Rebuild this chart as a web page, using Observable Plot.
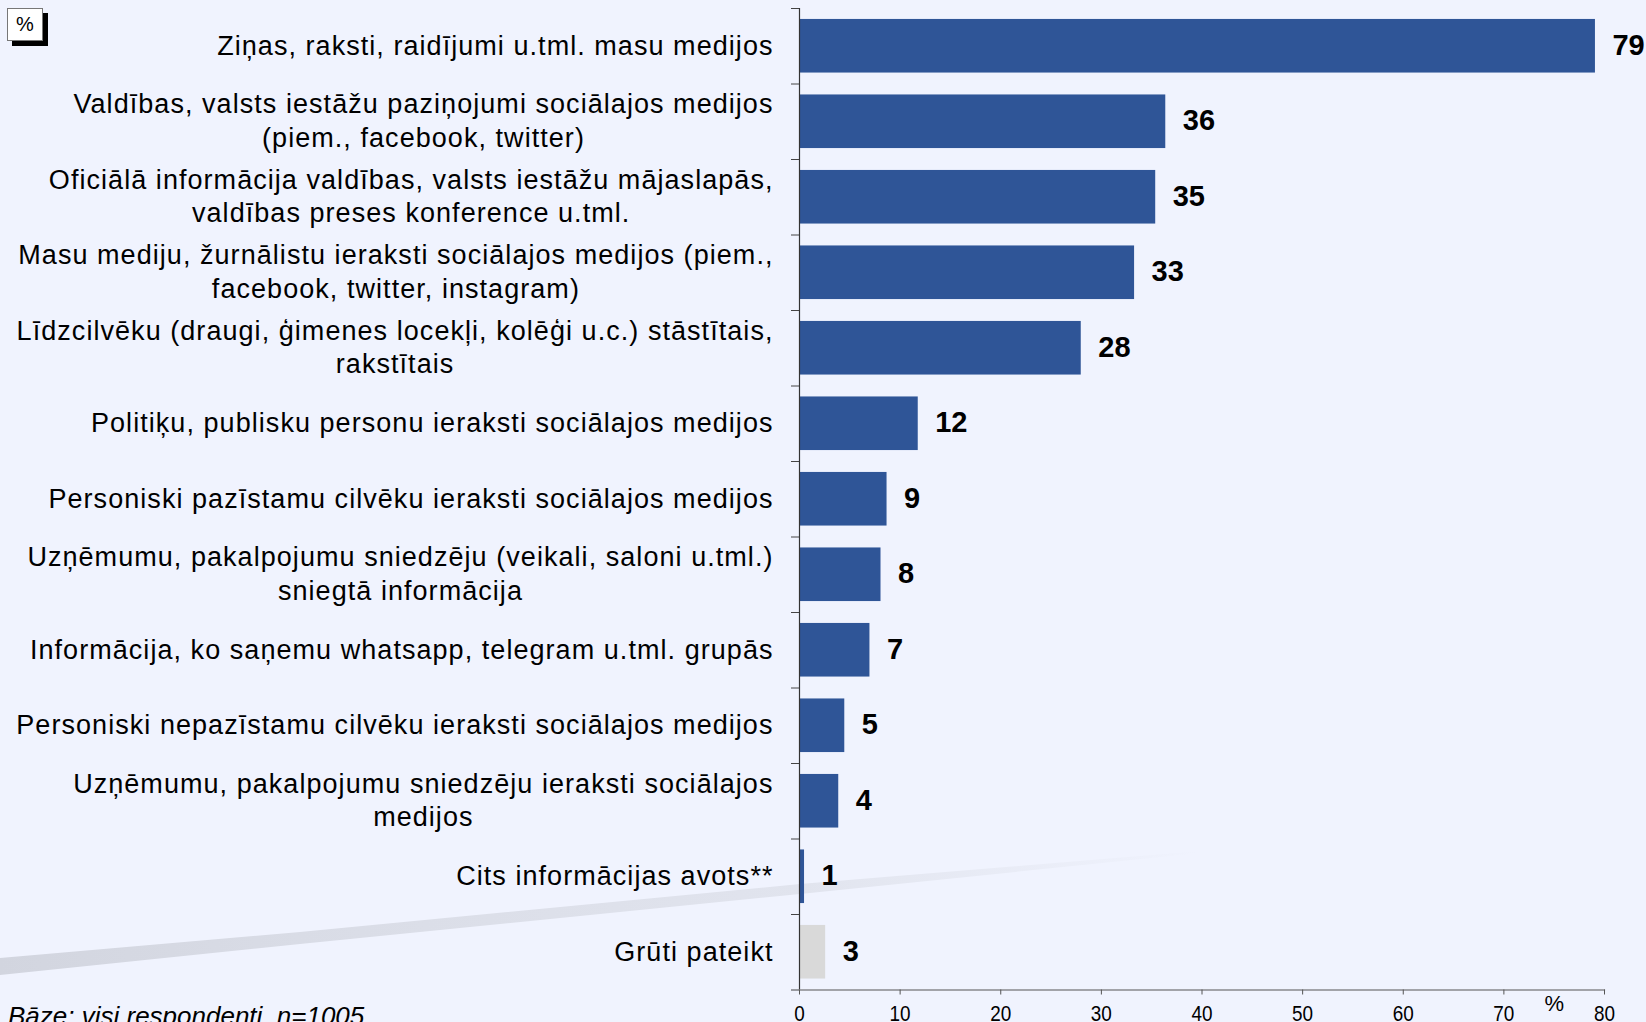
<!DOCTYPE html>
<html>
<head>
<meta charset="utf-8">
<script src="https://cdn.jsdelivr.net/npm/d3@7"></script>
<script src="https://cdn.jsdelivr.net/npm/@observablehq/plot@0.6"></script>
<style>
  html, body { margin: 0; padding: 0; }
  body { width: 1646px; height: 1022px; overflow: hidden; background: #F0F3FE; position: relative; font-family: "Liberation Sans", Arial, sans-serif; }
  #bg { position: absolute; left: 0; top: 0; }
  #chart { position: absolute; left: 0; top: 0; }
  #pct { position: absolute; left: 7px; top: 8px; width: 34px; height: 31px; background: #fff; border: 1.5px solid #777; box-shadow: 5px 5px 0 #000; font-size: 20px; line-height: 31px; text-align: center; color: #000; }
  #caption { position: absolute; left: 8px; top: 1003px; font-size: 26px; line-height: 26px; font-style: italic; color: #000; white-space: nowrap; }
  g[aria-label="y-axis tick label"] text { letter-spacing: 1.05px; }
</style>
</head>
<body>
<svg id="bg" width="1646" height="1022">
  <defs>
    <linearGradient id="stripe" x1="0" x2="1200" y1="0" y2="0" gradientUnits="userSpaceOnUse">
      <stop offset="0" stop-color="#D2D5DF"/>
      <stop offset="0.25" stop-color="#D9DCE6"/>
      <stop offset="0.67" stop-color="#E1E4EE"/>
      <stop offset="1" stop-color="#F0F3FE"/>
    </linearGradient>
  </defs>
  <polygon points="0,958 0,975 300,944 800,894 1200,853 1200,851 800,884 300,932" fill="url(#stripe)"/>
</svg>
<div id="chart"></div>
<div id="pct">%</div>
<div id="caption">Bāze: visi respondenti, n=1005</div>
<script>
const categories = [
  "Ziņas, raksti, raidījumi u.tml. masu medijos",
  "Valdības, valsts iestāžu paziņojumi sociālajos medijos\n(piem., facebook, twitter)",
  "Oficiālā informācija valdības, valsts iestāžu mājaslapās,\nvaldības preses konference u.tml.",
  "Masu mediju, žurnālistu ieraksti sociālajos medijos (piem.,\nfacebook, twitter, instagram)",
  "Līdzcilvēku (draugi, ģimenes locekļi, kolēģi u.c.) stāstītais,\nrakstītais",
  "Politiķu, publisku personu ieraksti sociālajos medijos",
  "Personiski pazīstamu cilvēku ieraksti sociālajos medijos",
  "Uzņēmumu, pakalpojumu sniedzēju (veikali, saloni u.tml.)\nsniegtā informācija",
  "Informācija, ko saņemu whatsapp, telegram u.tml. grupās",
  "Personiski nepazīstamu cilvēku ieraksti sociālajos medijos",
  "Uzņēmumu, pakalpojumu sniedzēju ieraksti sociālajos\nmedijos",
  "Cits informācijas avots**",
  "Grūti pateikt"
];
const values = [79.1, 36.4, 35.4, 33.3, 28.0, 11.8, 8.7, 8.1, 7.0, 4.5, 3.9, 0.5, 2.6];
const valueLabels = ["79", "36", "35", "33", "28", "12", "9", "8", "7", "5", "4", "1", "3"];
const kinds = ["answer", "answer", "answer", "answer", "answer", "answer", "answer", "answer", "answer", "answer", "answer", "answer", "dontknow"];
const xTicks = [0, 10, 20, 30, 40, 50, 60, 70, 80];

const data = categories.map((c, i) => ({cat: c, value: values[i], label: valueLabels[i], kind: kinds[i]}));

const W = 1646, H = 1022, mT = 8, mB = 32.5, mL = 799, mR = 42;
const step = (H - mT - mB) / categories.length;

const chart = Plot.plot({
  width: W, height: H,
  marginTop: mT, marginBottom: mB, marginLeft: mL, marginRight: mR,
  style: {background: "transparent", fontFamily: "'Liberation Sans', Arial, sans-serif", color: "#000", overflow: "visible"},
  x: {domain: [0, 80]},
  y: {domain: categories, paddingInner: 0.29, paddingOuter: 0.145, round: false},
  color: {domain: ["answer", "dontknow"], range: ["#2F5597", "#D9D9D9"]},
  marks: [
    Plot.barX(data, {x: "value", y: "cat", fill: "kind"}),
    Plot.text(data, {x: "value", y: "cat", text: "label", textAnchor: "start", dx: 17, dy: -1, fontWeight: "bold", fontSize: 29, fill: "#000"}),
    Plot.axisY({tickSize: 0, tickPadding: 26, fontSize: 27, lineHeight: 1.245, dy: -2.5, label: null, textAnchor: "end"}),
    Plot.axisY({tickSize: 8, tickFormat: () => "", dy: -step / 2, label: null, stroke: "#444"}),
    Plot.axisY({ticks: [categories[categories.length - 1]], tickSize: 8, tickFormat: () => "", dy: step / 2, label: null, stroke: "#444"}),
    Plot.ruleX([0], {stroke: "#333", strokeWidth: 1.2}),
    Plot.frame({anchor: "bottom", stroke: "#555", strokeWidth: 1.2}),
    Plot.axisX({ticks: xTicks, tickSize: 5, tickPadding: 10, fontSize: 22, label: null, stroke: "#555"}),
    Plot.text(["%"], {x: 75, frameAnchor: "bottom", dy: 21, fontSize: 22, fill: "#000", ariaLabel: "pct-label"})
  ]
});
document.getElementById("chart").appendChild(chart);

// centre the lines of multi-line category labels inside a right-aligned block
const yLabels = chart.querySelector('g[aria-label="y-axis tick label"]');
if (yLabels) {
  yLabels.querySelectorAll("text").forEach(t => {
    const spans = [...t.querySelectorAll("tspan")];
    if (spans.length < 2) return;
    const bb = t.getBBox();
    const right = bb.x + bb.width;
    const maxW = Math.max(...spans.map(s => s.getComputedTextLength()));
    const cx = right - maxW / 2;
    t.setAttribute("text-anchor", "middle");
    spans.forEach(s => s.setAttribute("x", cx));
  });
}

// condensed look for the x-axis numbers
function squeeze(t, k) {
  const x = +t.getAttribute("x") || 0;
  const tr = t.getAttribute("transform") || "";
  t.setAttribute("x", 0);
  t.setAttribute("transform", `${tr} translate(${x},0) scale(${k},1)`);
}
chart.querySelectorAll('g[aria-label="x-axis tick label"] text, g[aria-label="pct-label"] text').forEach(t => squeeze(t, 0.86));
</script>
</body>
</html>
